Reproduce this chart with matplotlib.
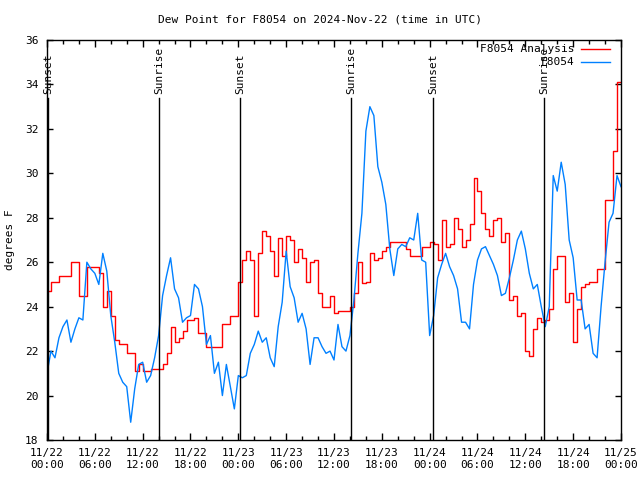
import pandas as pd
import matplotlib
matplotlib.use('Agg')
import matplotlib.pyplot as plt
import matplotlib.dates as mdates

# ─────────────────────────────────────────────
# Data (30 min steps from 11/22 00:00 UTC)
# ─────────────────────────────────────────────
analysis_dp = [
    24.7, 25.1, 25.1, 25.4, 25.4, 25.4, 26.0, 26.0, 24.5, 24.5,
    25.8, 25.8, 25.8, 25.5, 24.0, 24.7, 23.6, 22.5, 22.3, 22.3,
    21.9, 21.9, 21.1, 21.4, 21.1, 21.1, 21.2, 21.2, 21.2, 21.4,
    21.9, 23.1, 22.4, 22.6, 22.9, 23.4, 23.4, 23.5, 22.8, 22.8,
    22.2, 22.2, 22.2, 22.2, 23.2, 23.2, 23.6, 23.6, 25.1, 26.1,
    26.5, 26.1, 23.6, 26.4, 27.4, 27.2, 26.5, 25.4, 27.1, 26.3,
    27.2, 27.0, 26.0, 26.6, 26.2, 25.1, 26.0, 26.1, 24.6, 24.0,
    24.0, 24.5, 23.7, 23.8, 23.8, 23.8, 24.0, 24.6, 26.0, 25.05,
    25.1, 26.4, 26.1, 26.2, 26.5, 26.7, 26.9, 26.9, 26.9, 26.9,
    26.6, 26.3, 26.3, 26.3, 26.7, 26.7, 26.9, 26.8, 26.1, 27.9,
    26.7, 26.8, 28.0, 27.5, 26.7, 27.0, 27.7, 29.8, 29.2, 28.2,
    27.5, 27.2, 27.9, 28.0, 26.9, 27.3, 24.3, 24.5, 23.6, 23.7,
    22.0, 21.8, 23.0, 23.5, 23.3, 23.4, 23.9, 25.7, 26.3, 26.3,
    24.2, 24.6, 22.4, 23.9, 24.9, 25.0, 25.1, 25.1, 25.7, 25.7,
    28.8, 28.8, 31.0, 34.1, 34.1,
]

station_dp = [
    21.0, 22.0, 21.7, 22.6, 23.1, 23.4, 22.4, 23.0, 23.5, 23.4,
    26.0, 25.7, 25.5, 25.0, 26.4, 25.6, 23.6, 22.4, 21.0, 20.6,
    20.4, 18.8, 20.3, 21.4, 21.5, 20.6, 20.9, 21.7, 22.7, 24.5,
    25.4, 26.2, 24.8, 24.4, 23.3, 23.5, 23.6, 25.0, 24.8, 24.0,
    22.3, 22.7, 21.0, 21.5, 20.0, 21.4, 20.4, 19.4, 20.9, 20.8,
    20.9, 21.9, 22.3, 22.9, 22.4, 22.6, 21.7, 21.3, 23.1, 24.2,
    26.5, 24.9, 24.4, 23.3, 23.7, 23.0, 21.4, 22.6, 22.6, 22.2,
    21.9, 22.0, 21.6, 23.2, 22.2, 22.0, 22.7, 24.3, 26.4, 28.2,
    31.9, 33.0, 32.6, 30.3, 29.6, 28.6, 26.6, 25.4, 26.6, 26.8,
    26.7, 27.1, 27.0, 28.2, 26.1, 26.0, 22.7, 23.6, 25.3, 25.9,
    26.4, 25.8, 25.4, 24.8, 23.3, 23.3, 23.0, 25.0, 26.1, 26.6,
    26.7, 26.3, 25.9, 25.4, 24.5, 24.6, 25.3, 26.1, 27.0, 27.4,
    26.6, 25.5, 24.8, 25.0, 24.0, 23.1, 24.0, 29.9, 29.2, 30.5,
    29.5, 27.0, 26.2, 24.3, 24.3, 23.0, 23.2, 21.9, 21.7, 24.0,
    26.0, 27.8, 28.2, 29.9, 29.4,
]

times = pd.date_range('2024-11-22 00:00', periods=len(station_dp), freq='30min')

sun_events = ['Sunset', 'Sunrise', 'Sunset', 'Sunrise', 'Sunset', 'Sunrise']
sun_times = pd.to_datetime([
    '2024-11-22 00:08', '2024-11-22 14:04', '2024-11-23 00:15',
    '2024-11-23 14:11', '2024-11-24 00:24', '2024-11-24 14:21',
])

# ─────────────────────────────────────────────
# Plot
# ─────────────────────────────────────────────
plt.rcParams['font.family'] = 'DejaVu Sans Mono'
plt.rcParams['font.size'] = 8

fig = plt.figure(figsize=(6.4, 4.8), dpi=100)
ax = fig.add_axes([47 / 640, 40 / 480, 574 / 640, 400 / 480])

ax.plot(times, analysis_dp, color='#ff0000', lw=1, drawstyle='steps-post')
ax.plot(times, station_dp, color='#0080ff', lw=1)

for name, t in zip(sun_events, sun_times):
    ax.plot([t, t], [18, 33.4], color='black', lw=1)
    ax.text(t, 33.55, name, rotation=90, ha='center', va='bottom', fontsize=8)

ax.set_xlim(pd.Timestamp('2024-11-22 00:00'), pd.Timestamp('2024-11-25 00:00'))
ax.set_ylim(18, 36)
ax.set_yticks(range(18, 37, 2))

ax.xaxis.set_major_locator(mdates.HourLocator(byhour=[0, 6, 12, 18]))
ax.xaxis.set_minor_locator(mdates.HourLocator(byhour=range(0, 24, 2)))
ax.xaxis.set_major_formatter(mdates.DateFormatter('%m/%d\n%H:%M'))
ax.tick_params(which='major', direction='in', length=5, top=True, right=True,
               width=1, pad=6)
ax.tick_params(which='minor', direction='in', length=3, top=True, width=1)
ax.tick_params(axis='y', length=4, pad=6)
for s in ax.spines.values():
    s.set_linewidth(1)

# y label placed like gnuplot, near the left edge
fig.text(10 / 640, 0.5, 'degrees F', rotation=90, ha='center', va='center',
         fontsize=8)
fig.text(0.5, 1 - 19 / 480, 'Dew Point for F8054 on 2024-Nov-22 (time in UTC)',
         ha='center', va='center', fontsize=8)

# legend gnuplot-style: right aligned text, then line sample
leg = [('F8054 Analysis', '#ff0000', 49.5), ('F8054', '#0080ff', 62.5)]
for label, col, ypx in leg:
    yf = 1 - (ypx - 40) / 400
    ax.text((575 - 47) / 574, yf, label, transform=ax.transAxes,
            ha='right', va='center', fontsize=8)
    ax.plot([(581 - 47) / 574, (610 - 47) / 574], [yf, yf], color=col, lw=1,
            transform=ax.transAxes)

fig.savefig('out.png', dpi=100)
